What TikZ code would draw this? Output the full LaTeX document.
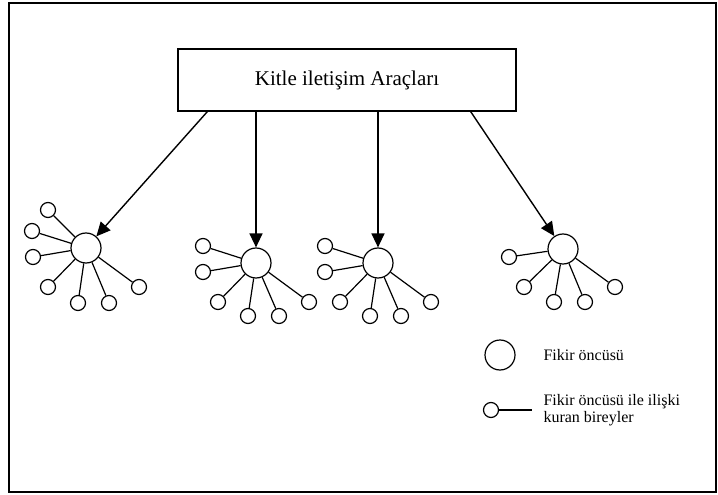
\documentclass[tikz,border=0pt]{standalone}
\usepackage{fontspec}
\setmainfont{Liberation Serif}
\usetikzlibrary{arrows.meta}
\usetikzlibrary{calc}

\tikzset{
  onder/.style={circle, draw, line width=1.2pt, minimum size=30pt, inner sep=0pt},
  birey/.style={circle, draw, line width=1.2pt, minimum size=15pt, inner sep=0pt},
  bag/.style={line width=1.2pt},
  ok/.style={line width=1.4pt, -{Triangle[length=14pt, width=13pt]}}
}

\begin{document}
\begin{tikzpicture}[x=1pt, y=-1pt]
  \useasboundingbox (0,0) rectangle (718,495);
  \draw[line width=1.8pt] (9,3) rectangle (716,492);
  \node[draw, line width=1.5pt, minimum width=338pt, minimum height=62pt,
        font=\fontsize{21}{24}\selectfont] (araclar) at (347,80) {Kitle iletişim Araçları};

  % fikir onculeri
  \node[onder] (f1) at (86,248) {};
  \node[onder] (f2) at (256,263) {};
  \node[onder] (f3) at (378,263) {};
  \node[onder] (f4) at (563,249) {};

  % bireyler
  \foreach \dx/\dy [count=\j] in {-38/-38, -54/-17, -53/9, -38/39, -8/55, 23/55, 53/39} {
    \node[birey] (b1-\j) at ($(f1)+(\dx,\dy)$) {};
    \draw[bag] (b1-\j) -- (f1);
  }
  \foreach \k in {2,3}
    \foreach \dx/\dy [count=\j] in {-53/-17, -53/9, -38/39, -8/53, 23/53, 53/39} {
      \node[birey] (b\k-\j) at ($(f\k)+(\dx,\dy)$) {};
      \draw[bag] (b\k-\j) -- (f\k);
    }
  \foreach \dx/\dy [count=\j] in {-54/8, -39/38, -9/53, 22/53, 52/38} {
    \node[birey] (b4-\j) at ($(f4)+(\dx,\dy)$) {};
    \draw[bag] (b4-\j) -- (f4);
  }

  \draw[ok] ([xshift=30pt]araclar.south west) -- (f1);
  \draw[ok] (araclar.south -| f2) -- (f2);
  \draw[ok] (araclar.south -| f3) -- (f3);
  \draw[ok] ([xshift=-46pt]araclar.south east) -- (f4);

  % aciklama
  \node[onder] (londer) at (500,355) {};
  \node[anchor=west, font=\fontsize{16}{17}\selectfont] (londer-yazi) at (540,355) {Fikir öncüsü};
  \node[birey] (lbirey) at (491,410) {};
  \coordinate (lbag) at (532,410);
  \draw[bag] (lbirey) -- (lbag);
  \node[anchor=west, align=left, font=\fontsize{16}{17}\selectfont] (lbirey-yazi) at (540,410)
    {Fikir öncüsü ile ilişki\\kuran bireyler};
\end{tikzpicture}
\end{document}
